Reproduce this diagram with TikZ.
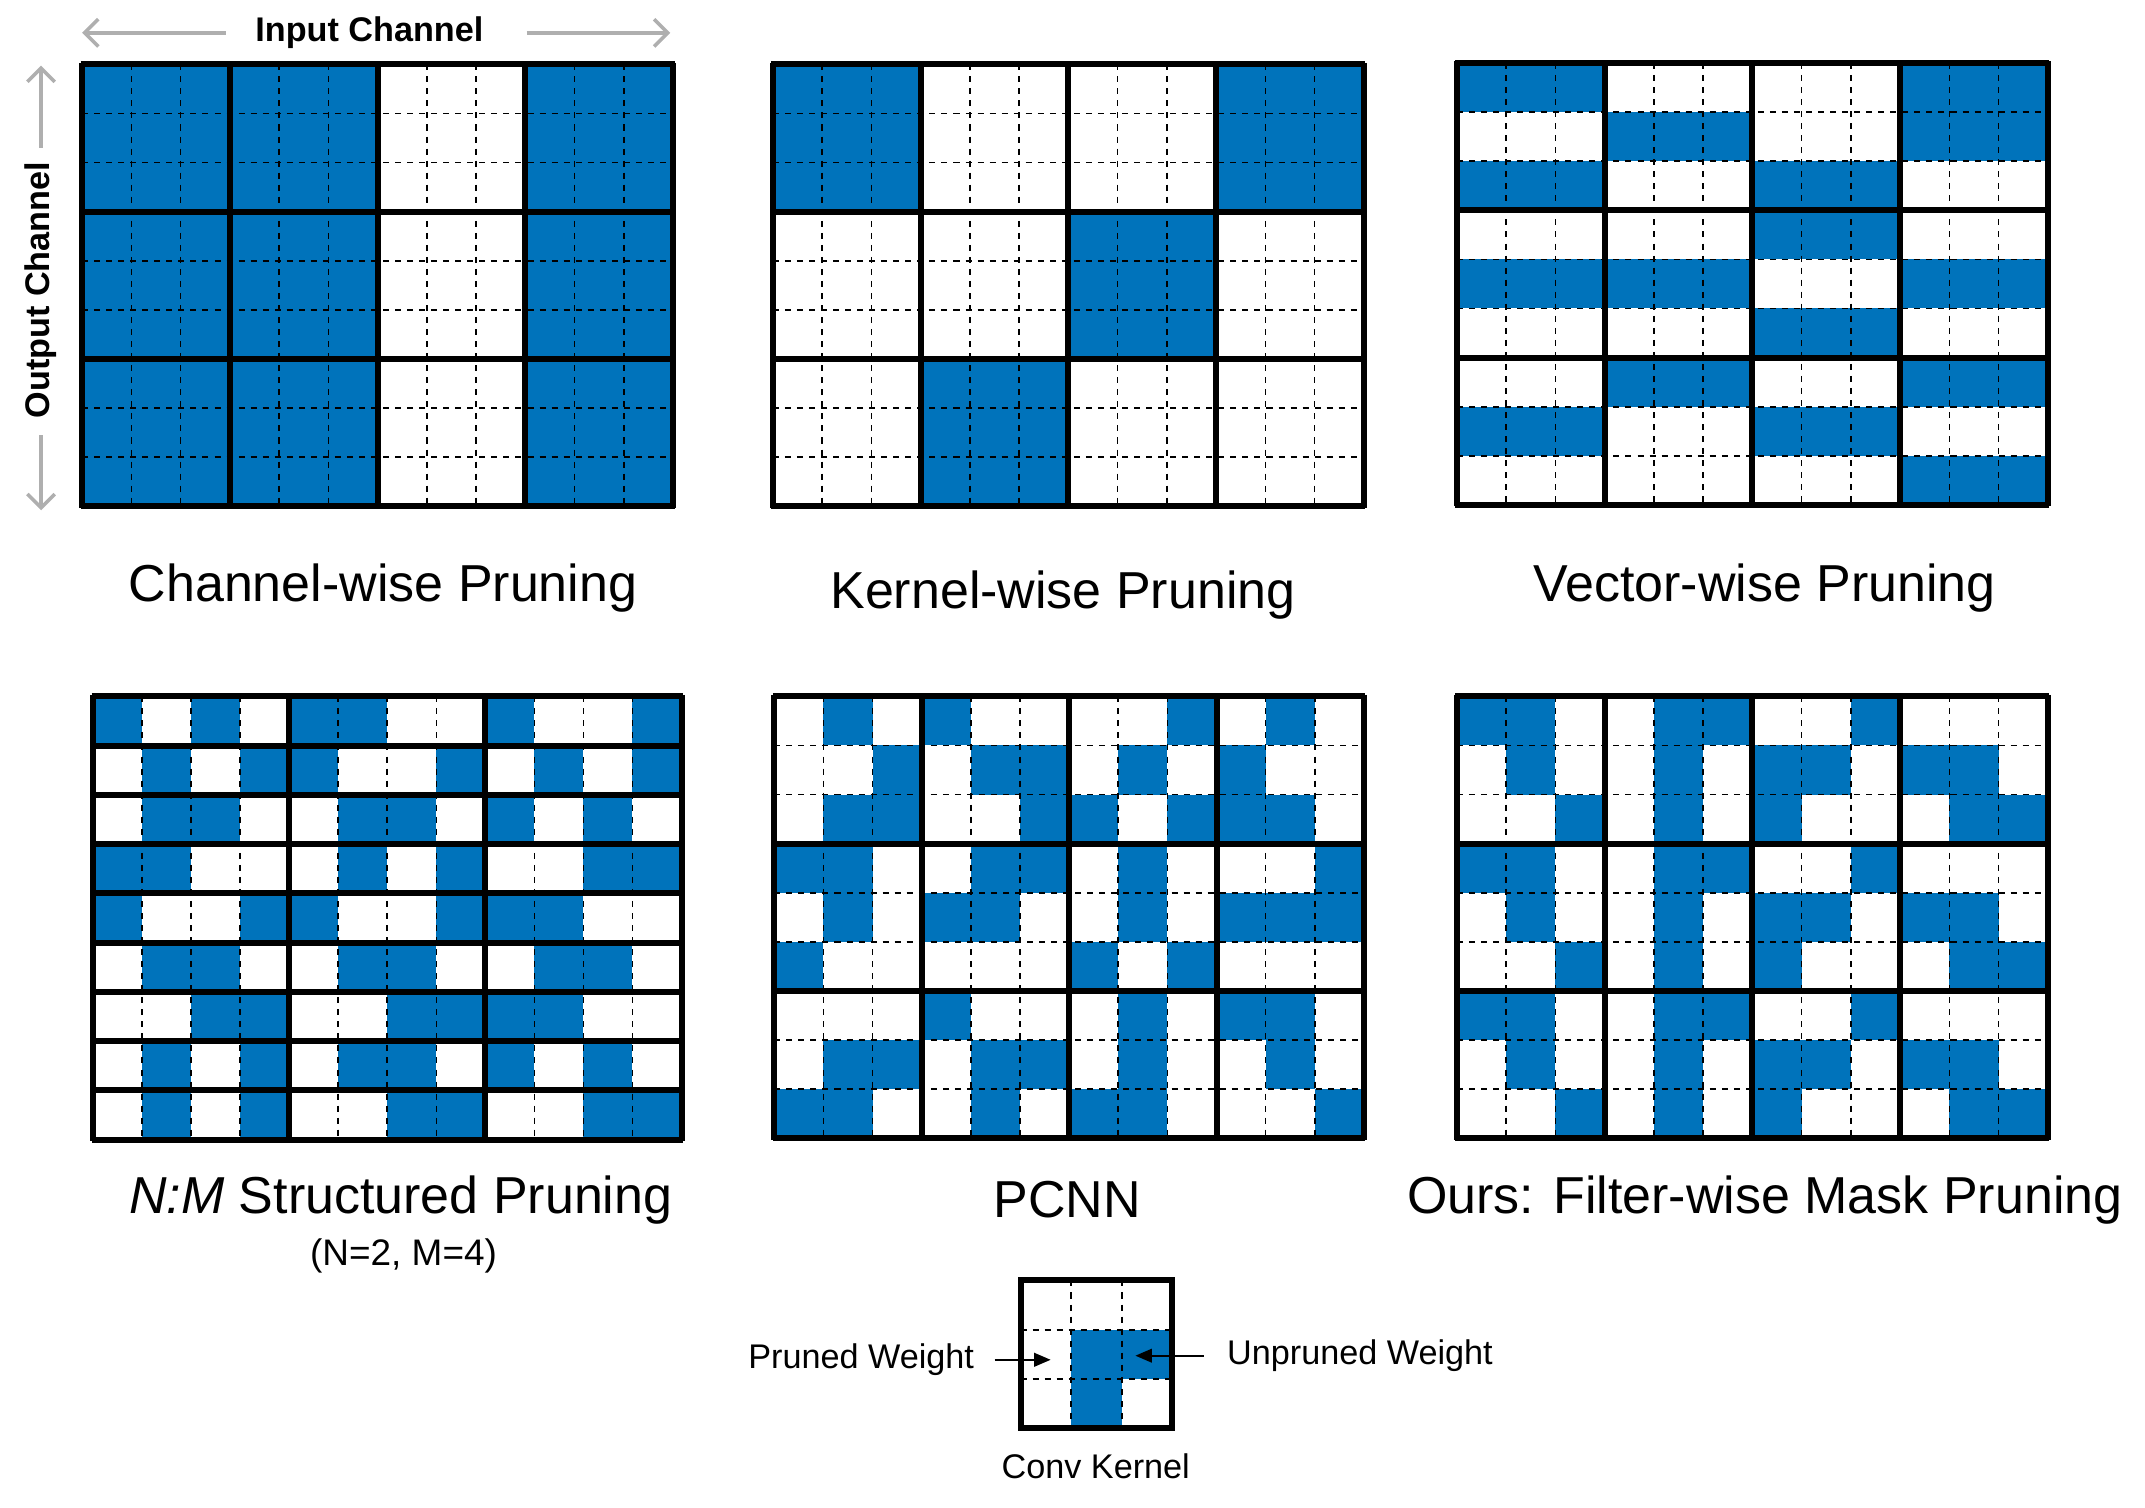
\documentclass[tikz,border=0pt]{standalone}
\usepackage{fontspec}
\setmainfont{Liberation Sans}
\usetikzlibrary{arrows.meta}
\definecolor{bl}{RGB}{0,115,187}
\definecolor{gr}{RGB}{175,175,175}
\tikzset{
  cell/.style={fill=bl},
  dsh/.style={line width=0.6pt,dash pattern=on 2.2pt off 2.2pt},
  thk/.style={line width=2.2pt},
  captxt/.style={font=\fontsize{19}{22}\selectfont},
  sml/.style={font=\fontsize{12.5}{15}\selectfont},
  garr/.style={gr,line width=1.3pt,-{Straight Barb[length=5pt,width=10pt]}},
  karr/.style={line width=0.6pt,-{Triangle[length=6pt,width=5pt]}}
}
\newcommand\kpanel[5]{%
  \foreach \rw [count=\r from 0] in {#3}{%
    \foreach \v [count=\c from 0] in \rw {%
      \ifnum\v=1 \fill[cell] ({#1+\c*#4},{#2+\r*#5}) rectangle ++(#4,#5);\fi}}
  \foreach \i in {1,2,4,5,7,8,10,11}
    \draw[dsh] ({#1+\i*#4},#2) -- ++(0,{9*#5});
  \foreach \j in {1,2,4,5,7,8}
    \draw[dsh] (#1,{#2+\j*#5}) -- ++({12*#4},0);
  \foreach \i in {0,3,6,9,12}
    \draw[thk] ({#1+\i*#4},{#2-1.1}) -- ++(0,{9*#5+2.2});
  \foreach \j in {0,3,6,9}
    \draw[thk] ({#1-1.1},{#2+\j*#5}) -- ++({12*#4+2.2},0);
}
\newcommand\nmpanel[5]{%
  \foreach \rw [count=\r from 0] in {#3}{%
    \foreach \v [count=\c from 0] in \rw {%
      \ifnum\v=1 \fill[cell] ({#1+\c*#4},{#2+\r*#5}) rectangle ++(#4,#5);\fi}}
  \foreach \i in {1,2,3,5,6,7,9,10,11}
    \draw[dsh] ({#1+\i*#4},#2) -- ++(0,{9*#5});
  \foreach \i in {0,4,8,12}
    \draw[thk] ({#1+\i*#4},{#2-1.1}) -- ++(0,{9*#5+2.2});
  \foreach \j in {0,...,9}
    \draw[thk] ({#1-1.1},{#2+\j*#5}) -- ++({12*#4+2.2},0);
}
\begin{document}
\begin{tikzpicture}[x=0.5pt,y=-0.5pt]
\useasboundingbox (0,0) rectangle (1568,1102);
\kpanel{60}{47}{{1,1,1,1,1,1,0,0,0,1,1,1},{1,1,1,1,1,1,0,0,0,1,1,1},{1,1,1,1,1,1,0,0,0,1,1,1},{1,1,1,1,1,1,0,0,0,1,1,1},{1,1,1,1,1,1,0,0,0,1,1,1},{1,1,1,1,1,1,0,0,0,1,1,1},{1,1,1,1,1,1,0,0,0,1,1,1},{1,1,1,1,1,1,0,0,0,1,1,1},{1,1,1,1,1,1,0,0,0,1,1,1}}{36}{35.9}
\kpanel{565}{47}{{1,1,1,0,0,0,0,0,0,1,1,1},{1,1,1,0,0,0,0,0,0,1,1,1},{1,1,1,0,0,0,0,0,0,1,1,1},{0,0,0,0,0,0,1,1,1,0,0,0},{0,0,0,0,0,0,1,1,1,0,0,0},{0,0,0,0,0,0,1,1,1,0,0,0},{0,0,0,1,1,1,0,0,0,0,0,0},{0,0,0,1,1,1,0,0,0,0,0,0},{0,0,0,1,1,1,0,0,0,0,0,0}}{36}{35.9}
\kpanel{1065}{46}{{1,1,1,0,0,0,0,0,0,1,1,1},{0,0,0,1,1,1,0,0,0,1,1,1},{1,1,1,0,0,0,1,1,1,0,0,0},{0,0,0,0,0,0,1,1,1,0,0,0},{1,1,1,1,1,1,0,0,0,1,1,1},{0,0,0,0,0,0,1,1,1,0,0,0},{0,0,0,1,1,1,0,0,0,1,1,1},{1,1,1,0,0,0,1,1,1,0,0,0},{0,0,0,0,0,0,0,0,0,1,1,1}}{36}{35.9}
\nmpanel{68}{509}{{1,0,1,0,1,1,0,0,1,0,0,1},{0,1,0,1,1,0,0,1,0,1,0,1},{0,1,1,0,0,1,1,0,1,0,1,0},{1,1,0,0,0,1,0,1,0,0,1,1},{1,0,0,1,1,0,0,1,1,1,0,0},{0,1,1,0,0,1,1,0,0,1,1,0},{0,0,1,1,0,0,1,1,1,1,0,0},{0,1,0,1,0,1,1,0,1,0,1,0},{0,1,0,1,0,0,1,1,0,0,1,1}}{35.85}{36}
\kpanel{566}{509}{{0,1,0,1,0,0,0,0,1,0,1,0},{0,0,1,0,1,1,0,1,0,1,0,0},{0,1,1,0,0,1,1,0,1,1,1,0},{1,1,0,0,1,1,0,1,0,0,0,1},{0,1,0,1,1,0,0,1,0,1,1,1},{1,0,0,0,0,0,1,0,1,0,0,0},{0,0,0,1,0,0,0,1,0,1,1,0},{0,1,1,0,1,1,0,1,0,0,1,0},{1,1,0,0,1,0,1,1,0,0,0,1}}{35.92}{35.9}
\kpanel{1065}{509}{{1,1,0,0,1,1,0,0,1,0,0,0},{0,1,0,0,1,0,1,1,0,1,1,0},{0,0,1,0,1,0,1,0,0,0,1,1},{1,1,0,0,1,1,0,0,1,0,0,0},{0,1,0,0,1,0,1,1,0,1,1,0},{0,0,1,0,1,0,1,0,0,0,1,1},{1,1,0,0,1,1,0,0,1,0,0,0},{0,1,0,0,1,0,1,1,0,1,1,0},{0,0,1,0,1,0,1,0,0,0,1,1}}{36}{35.9}
\node[font=\bfseries\fontsize{12.5}{15}\selectfont] (inch) at (270,24) {Input Channel};
\coordinate (il) at (60,24); \coordinate (ir) at (490,24);
\draw[garr] (165,24) -- (il);
\draw[garr] (385,24) -- (ir);
\node[font=\bfseries\fontsize{12.5}{15}\selectfont,rotate=90] (outch) at (30,212) {Output Channel};
\coordinate (ot) at (30,48); \coordinate (ob) at (30,373);
\draw[garr] (30,108) -- (ot);
\draw[garr] (30,318) -- (ob);
\node[captxt] (c1) at (280,430) {Channel-wise Pruning};
\node[captxt] (c2) at (777,435) {Kernel-wise Pruning};
\node[captxt] (c3) at (1290,430) {Vector-wise Pruning};
\node[captxt] (c4) at (293,877) {\textit{N:M} Structured Pruning};
\node[font=\fontsize{13.5}{16}\selectfont] (c4b) at (295,918) {(N=2, M=4)};
\node[captxt] (c5) at (780,877) {PCNN};
\node[captxt] (c6) at (1290,877) {Ours: Filter-wise Mask Pruning};
\fill[cell] (783,972) rectangle (820,1044);
\fill[cell] (820,972) rectangle (857,1008);
\draw[dsh] (783,936) -- (783,1044);
\draw[dsh] (820,936) -- (820,1044);
\draw[dsh] (746,972) -- (857,972);
\draw[dsh] (746,1008) -- (857,1008);
\draw[thk] (746,936) rectangle (857,1044);
\coordinate (pw) at (768,994);
\coordinate (uw) at (830,991);
\node[sml,anchor=east] (pwl) at (719,994) {Pruned Weight};
\node[sml,anchor=west] (uwl) at (890,991) {Unpruned Weight};
\draw[karr] ([xshift=4pt]pwl.east) -- (pw);
\draw[karr] ([xshift=-5pt]uwl.west) -- (uw);
\node[sml] (ck) at (801,1072) {Conv Kernel};
\end{tikzpicture}
\end{document}
